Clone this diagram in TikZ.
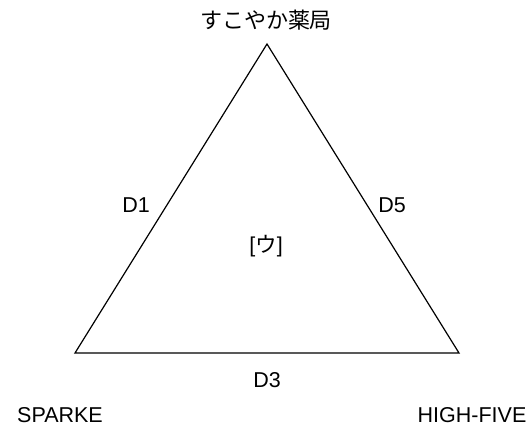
\documentclass[tikz,border=0pt]{standalone}
\usepackage{fontspec}
\setmainfont{Liberation Sans}
\newfontfamily\cjk{Noto Sans CJK JP}
\usetikzlibrary{positioning}
\tikzstyle{place} = [inner sep=0pt, font=\fontsize{21.5}{24}\selectfont]
\tikzstyle{edge} = [draw=black, line width=1.2pt, line join=miter]

\begin{document}
\begin{tikzpicture}[x=1pt, y=-1pt]
\useasboundingbox (0,0) rectangle (531,427);
\coordinate (top) at (267,44);
\coordinate (left) at (75,353);
\coordinate (right) at (459,353);
\draw [edge] (top) -- (left) -- (right) -- cycle;
\node (shop) [place] at (266,20) {\cjk\fontsize{22}{24}\selectfont すこやか薬局};
\node (dleft) [place] at (136,205) {D1};
\node (dright) [place] at (392,205) {D5};
\node (mid) [place] at (266,246) {[{\cjk ウ}]};
\node (dbottom) [place] at (267,380) {D3};
\node (spark) [place] at (60,415) {SPARKE};
\node (high) [place] at (472,415) {HIGH-FIVE};
\end{tikzpicture}
\end{document}
